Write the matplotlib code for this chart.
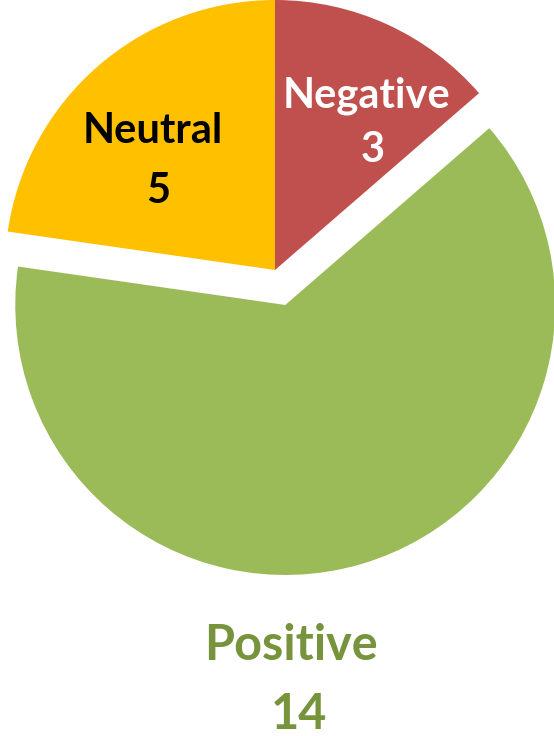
import matplotlib
matplotlib.use('Agg')
import matplotlib.pyplot as plt

# Data
labels = ['Negative', 'Positive', 'Neutral']
values = [3, 14, 5]
colors = ['#C0504D', '#9BBB59', '#FFC000']
explode = [0, 0.135, 0]

plt.rcParams['font.family'] = ['Lato', 'DejaVu Sans']

fig = plt.figure(figsize=(5.54, 7.36), dpi=100)
ax = fig.add_axes([0, 0, 1, 1])

ax.pie(values, colors=colors, explode=explode, startangle=90,
       counterclock=False, radius=1,
       wedgeprops=dict(linewidth=0))

# pixel scale: radius = 270 px, centre at (275, 270) from top-left
px = 270.0
ax.set_xlim(-275 / px, (554 - 275) / px)
ax.set_ylim((270 - 736) / px, 270 / px)
ax.set_aspect('equal')
ax.axis('off')

def to_data(x, y):
    return (x - 275) / px, (270 - y) / px

def label(xp, yp, s, size, color):
    x, y = to_data(xp, yp)
    ax.text(x, y, s, ha='center', va='baseline', fontsize=size,
            fontweight='bold', color=color)

# Neutral
label(153, 143, labels[2], 30, 'black')
label(158, 203, str(values[2]), 30, 'black')

# Negative
label(367, 107, labels[0], 30, 'white')
label(373, 162, str(values[0]), 30, 'white')

# Positive (below the pie)
label(291, 660, labels[1], 35, '#77933C')
label(299, 729, str(values[1]), 35, '#77933C')

fig.savefig('out.png', dpi=100)
